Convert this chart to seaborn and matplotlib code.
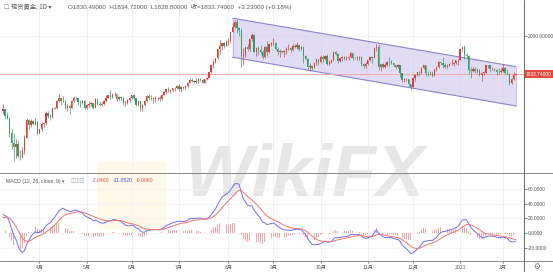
import numpy as np
import pandas as pd
import matplotlib
matplotlib.use("Agg")
import matplotlib.pyplot as plt
import seaborn as sns
from matplotlib.patches import Polygon, FancyBboxPatch
from matplotlib.lines import Line2D
from matplotlib.ticker import FormatStrFormatter
import matplotlib.transforms as mtransforms

# ---------------- data ----------------
# warm-up closes (before the visible window) used for the MACD indicator
warm_dec19 = [1463, 1477, 1474, 1475, 1460, 1462, 1464, 1476, 1475, 1476, 1476, 1476, 1475, 1478, 1478,
              1486, 1498, 1512, 1511, 1515, 1517]
warm_jan20 = [1528, 1552, 1566, 1574, 1556, 1552, 1562, 1548, 1545, 1555, 1552, 1557, 1560, 1558, 1557,
              1563, 1571, 1582, 1567, 1577, 1576, 1589]
warm_feb20 = [1577, 1553, 1556, 1567, 1570, 1572, 1566, 1568, 1576, 1584, 1581, 1601, 1611, 1620, 1643,
              1659, 1636, 1641, 1643, 1585]
warm_mar20 = [1592, 1640, 1636, 1672, 1674]

close_mar = [1680, 1649, 1639, 1577, 1530, 1514, 1526, 1477, 1471, 1498, 1553, 1632, 1612, 1630, 1617, 1622, 1577]
high_mar = [1703, 1681, 1666, 1645, 1595, 1575, 1548, 1546, 1501, 1516, 1567, 1641, 1637, 1637, 1631, 1643, 1628]
low_mar = [1659, 1636, 1635, 1560, 1504, 1451, 1466, 1472, 1456, 1468, 1482, 1553, 1593, 1600, 1609, 1611, 1567]

close_apr = [1591, 1613, 1620, 1663, 1648, 1645, 1684, 1683, 1714, 1727, 1716, 1717, 1683, 1694, 1687, 1714,
             1730, 1727, 1713, 1706, 1714, 1686]
high_apr = [1594, 1624, 1625, 1670, 1671, 1660, 1690, 1688, 1721, 1747, 1730, 1737, 1719, 1702, 1697, 1718,
            1739, 1737, 1725, 1719, 1718, 1722]
low_apr = [1570, 1585, 1604, 1609, 1640, 1634, 1643, 1679, 1680, 1711, 1699, 1712, 1680, 1672, 1660, 1685,
           1711, 1720, 1700, 1691, 1701, 1680]

close_may = [1700, 1701, 1705, 1685, 1725, 1702, 1697, 1702, 1716, 1730, 1743, 1733, 1745, 1747, 1725, 1735,
             1729, 1709, 1709, 1719, 1730]
high_may = [1703, 1716, 1711, 1707, 1728, 1726, 1714, 1711, 1718, 1740, 1744, 1765, 1748, 1754, 1747, 1737,
            1736, 1735, 1716, 1724, 1733]
low_may = [1680, 1688, 1693, 1682, 1685, 1697, 1692, 1694, 1698, 1711, 1727, 1726, 1727, 1738, 1717, 1722,
           1722, 1697, 1694, 1701, 1712]

close_jun = [1740, 1727, 1700, 1714, 1684, 1698, 1714, 1737, 1727, 1729, 1725, 1727, 1727, 1723, 1743, 1754,
             1768, 1761, 1764, 1771, 1772, 1781]
high_jun = [1744, 1745, 1730, 1716, 1718, 1701, 1719, 1740, 1745, 1744, 1735, 1736, 1734, 1736, 1745, 1758,
            1768, 1779, 1767, 1772, 1775, 1785]
low_jun = [1724, 1720, 1693, 1694, 1671, 1671, 1692, 1712, 1720, 1720, 1705, 1710, 1721, 1714, 1721, 1740,
           1752, 1757, 1750, 1757, 1761, 1768]

close_jul = [1769, 1775, 1772, 1783, 1795, 1809, 1803, 1799, 1802, 1810, 1809, 1796, 1810, 1818, 1842, 1871,
             1888, 1902, 1941, 1957, 1970, 1958, 1975]
high_jul = [1789, 1776, 1777, 1786, 1797, 1818, 1818, 1808, 1817, 1812, 1818, 1813, 1812, 1822, 1843, 1872,
            1898, 1904, 1945, 1981, 1970, 1975, 1984]
low_jul = [1760, 1757, 1767, 1770, 1775, 1793, 1797, 1795, 1795, 1796, 1802, 1794, 1795, 1806, 1815, 1838,
           1858, 1880, 1900, 1923, 1940, 1946, 1957]

close_aug = [1976, 2019, 2039, 2062, 2035, 2028, 1911, 1915, 1954, 1944, 1985, 2003, 1929, 1947, 1940, 1929,
             1907, 1953, 1929, 1964, 1968]
high_aug = [1990, 2024, 2055, 2069, 2075, 2040, 2033, 1949, 1956, 1965, 1989, 2015, 2010, 1951, 1955, 1960,
            1938, 1958, 1976, 1968, 1974]
low_aug = [1959, 1970, 2016, 2033, 2015, 2001, 1863, 1874, 1909, 1934, 1935, 1980, 1929, 1912, 1917, 1920,
           1901, 1902, 1911, 1924, 1958]

close_sep = [1971, 1943, 1931, 1933, 1931, 1932, 1946, 1946, 1940, 1956, 1954, 1960, 1944, 1950, 1912, 1900,
             1863, 1867, 1861, 1881, 1898, 1886]
high_sep = [1992, 1972, 1952, 1945, 1935, 1937, 1952, 1966, 1952, 1963, 1967, 1972, 1961, 1958, 1955, 1918,
            1904, 1882, 1873, 1883, 1900, 1899]
low_sep = [1962, 1937, 1916, 1907, 1924, 1906, 1921, 1938, 1932, 1934, 1948, 1945, 1933, 1940, 1882, 1893,
           1856, 1848, 1851, 1859, 1874, 1872]

close_oct = [1906, 1899, 1913, 1877, 1887, 1893, 1930, 1922, 1891, 1902, 1908, 1899, 1905, 1907, 1924, 1904,
             1902, 1902, 1908, 1878, 1868, 1879]
high_oct = [1917, 1918, 1918, 1921, 1893, 1899, 1933, 1934, 1925, 1904, 1911, 1912, 1912, 1913, 1932, 1925,
            1910, 1913, 1912, 1911, 1880, 1885]
low_oct = [1882, 1887, 1894, 1873, 1874, 1880, 1890, 1918, 1884, 1885, 1891, 1894, 1897, 1895, 1903, 1894,
           1898, 1894, 1897, 1869, 1860, 1859]

close_nov = [1894, 1909, 1904, 1948, 1952, 1863, 1877, 1866, 1874, 1888, 1887, 1880, 1872, 1866, 1871, 1837,
             1806, 1810, 1811, 1788, 1777]
high_nov = [1897, 1911, 1912, 1950, 1966, 1965, 1879, 1882, 1880, 1892, 1907, 1894, 1883, 1873, 1876, 1875,
            1839, 1815, 1816, 1814, 1792]
low_nov = [1875, 1889, 1883, 1904, 1936, 1850, 1848, 1860, 1860, 1870, 1868, 1878, 1866, 1855, 1862, 1822,
           1800, 1800, 1805, 1775, 1764]

close_dec = [1815, 1831, 1841, 1838, 1862, 1871, 1838, 1837, 1839, 1827, 1855, 1863, 1886, 1881, 1872, 1863,
             1870, 1876, 1877, 1880, 1893, 1895]
high_dec = [1820, 1833, 1843, 1848, 1866, 1875, 1875, 1845, 1848, 1845, 1857, 1867, 1891, 1887, 1907, 1880,
            1878, 1883, 1899, 1888, 1893, 1900]
low_dec = [1776, 1805, 1826, 1826, 1834, 1855, 1826, 1826, 1829, 1820, 1826, 1848, 1859, 1874, 1860, 1861,
           1859, 1869, 1872, 1870, 1876, 1875]

close_jan = [1943, 1950, 1918, 1912, 1850, 1845, 1855, 1846, 1851, 1829, 1840, 1840, 1871, 1871, 1856, 1856,
             1850, 1844, 1843, 1848]
high_jan = [1945, 1952, 1960, 1925, 1917, 1865, 1863, 1863, 1860, 1854, 1843, 1845, 1875, 1875, 1871, 1866,
            1858, 1854, 1859, 1861]
low_jan = [1895, 1933, 1901, 1905, 1833, 1816, 1842, 1839, 1838, 1826, 1804, 1831, 1838, 1858, 1844, 1850,
           1846, 1830, 1835, 1837]

close_feb = [1860, 1837, 1835, 1794, 1814, 1830.51, 1833.74]
high_feb = [1876, 1864, 1856, 1837, 1817, 1843, 1834.72]
low_feb = [1843, 1832, 1830, 1785, 1792, 1807, 1828.80]
last_open = 1830.49

month_labels = ["4月", "5月", "6月", "7月", "8月", "9月", "10月", "11月", "12月", "2021", "2月"]

channel_dates = ["2020-08-05", "2021-02-09"]
channel_top = [2078, 1866]
channel_bottom = [1907, 1694]

price_tick = [2000]
macd_ticks = [60, 40, 20, 0, -20]

# ---------------- assemble ----------------
closes = (close_mar + close_apr + close_may + close_jun + close_jul + close_aug + close_sep +
          close_oct + close_nov + close_dec + close_jan + close_feb)
highs = (high_mar + high_apr + high_may + high_jun + high_jul + high_aug + high_sep +
         high_oct + high_nov + high_dec + high_jan + high_feb)
lows = (low_mar + low_apr + low_may + low_jun + low_jul + low_aug + low_sep +
        low_oct + low_nov + low_dec + low_jan + low_feb)
warm = warm_dec19 + warm_jan20 + warm_feb20 + warm_mar20

days = pd.bdate_range("2020-03-09", "2021-02-09")
days = days[~days.isin(pd.to_datetime(["2020-12-25", "2021-01-01"]))]
assert len(days) == len(closes) == len(highs) == len(lows)

n = len(closes)
closes_a = np.array(closes, float)
# spot gold trades continuously: each bar opens at the prior close
opens_a = np.concatenate([[warm[-1]], closes_a[:-1]])
opens_a[-1] = last_open
df = pd.DataFrame({"date": days, "i": np.arange(n), "open": opens_a, "high": highs,
                   "low": lows, "close": closes_a})

allc = pd.Series(warm + closes, dtype=float)
ema12 = allc.ewm(span=12, adjust=False).mean()
ema26 = allc.ewm(span=26, adjust=False).mean()
macd = ema12 - ema26
sig = macd.ewm(span=9, adjust=False).mean()
df["macd"] = macd.values[len(warm):]
df["signal"] = sig.values[len(warm):]
df["hist"] = df["macd"] - df["signal"]

month_idx = []
for m in pd.period_range("2020-04", "2021-02", freq="M"):
    mask = (df["date"].dt.to_period("M") == m).values
    month_idx.append(int(np.argmax(mask)))

# ---------------- figure ----------------
sns.set_theme(style="white")
plt.rcParams['font.family'] = ['Liberation Sans', 'DejaVu Sans', 'Noto Sans CJK SC']
CJK = ['Noto Sans CJK SC', 'DejaVu Sans']
LAT = ['Liberation Sans', 'DejaVu Sans']

W, H = 553, 272
fig = plt.figure(figsize=(W / 100, H / 100), dpi=100)
fig.patch.set_facecolor("white")
axw = 523.5 / W
ax = fig.add_axes([0, 100 / H, axw, 172 / H])
ax2 = fig.add_axes([0, 11 / H, axw, 88 / H])
for a in (ax, ax2):
    a.patch.set_alpha(0)
    for s in a.spines.values():
        s.set_visible(False)

step = 2.146
x0 = -3 / step
x1 = (523.5 - 3) / step
ax.set_xlim(x0, x1)
ax2.set_xlim(x0, x1)
ax.set_ylim(1405, 2157.5)
ax2.set_ylim(-38.1, 81.6)

grid_c = "#efefef"
for a in (ax, ax2):
    for mi in month_idx:
        a.axvline(mi, color=grid_c, lw=0.6, zorder=0)
for t in price_tick:
    ax.axhline(t, color=grid_c, lw=0.6, zorder=0)
for t in macd_ticks:
    ax2.axhline(t, color="#f2f2f2", lw=0.6, zorder=0)

# watermark (behind)
fig.patches.append(FancyBboxPatch((104 / W, 1 - 226 / H), 56 / W, 62 / H,
                                  boxstyle="round,pad=0.012", transform=fig.transFigure,
                                  fc="#fdf3d3", ec="none", alpha=0.5, zorder=-2))
fig.text(305 / W, 1 - 177 / H, "WikiFX", fontsize=52, fontweight="bold", fontstyle="italic",
         family=["Liberation Sans Narrow", "Liberation Sans", "DejaVu Sans"], color="#e6e6e6",
         ha="center", va="center", zorder=-1)

# channel
ci = [int(df.index[df["date"] == pd.Timestamp(d)][0]) for d in channel_dates]
poly = Polygon([(ci[0], channel_top[0]), (ci[1], channel_top[1]),
                (ci[1], channel_bottom[1]), (ci[0], channel_bottom[0])],
               closed=True, fc="#cdc6ec", alpha=0.6, ec="none", zorder=1)
ax.add_patch(poly)
ax.plot([ci[0], ci[1]], channel_top, color="#8c80cf", lw=0.8, zorder=2)
ax.plot([ci[0], ci[1]], channel_bottom, color="#8c80cf", lw=0.8, zorder=2)
ax.plot([ci[0], ci[0]], [channel_bottom[0], channel_top[0]], color="#b0a8dd", lw=0.5, zorder=2)
ax.plot([ci[1], ci[1]], [channel_bottom[1], channel_top[1]], color="#b0a8dd", lw=0.5, zorder=2)

# last price line
last = closes[-1]
ax.axhline(last, color="#f0a9a9", lw=0.7, zorder=2)

# candles
up_c, dn_c = "#d2413a", "#3a9a6a"
up = df["close"] >= df["open"]
cols = np.where(up, up_c, dn_c)
ax.vlines(df["i"], df["low"], df["high"], colors=cols, lw=0.5, zorder=3)
body = (df["close"] - df["open"]).values
body = np.where(np.abs(body) < 1.5, np.where(body >= 0, 1.5, -1.5), body)
ax.bar(df["i"], body, bottom=df["open"], width=0.62, color=cols, linewidth=0, zorder=4)

# MACD pane
ax2.bar(df["i"], df["hist"], width=0.35, color="#f2a3a3", linewidth=0, zorder=2)
sns.lineplot(data=df, x="i", y="macd", ax=ax2, color="#6f6ff0", lw=0.7, zorder=3)
sns.lineplot(data=df, x="i", y="signal", ax=ax2, color="#f07272", lw=0.7, zorder=3)
ax2.set_xlabel("")
ax2.set_ylabel("")

# axes ticks
ax.yaxis.tick_right()
ax.set_yticks(price_tick)
ax.yaxis.set_major_formatter(FormatStrFormatter("%.5f"))
ax.tick_params(axis="y", length=2, width=0.5, pad=1.0, labelsize=3.5, colors="#555555", right=True)
ax.set_xticks([])

ax2.yaxis.tick_right()
ax2.set_yticks(macd_ticks)
ax2.yaxis.set_major_formatter(FormatStrFormatter("%.4f"))
ax2.tick_params(axis="y", length=2, width=0.5, pad=1.0, labelsize=3.5, colors="#555555", right=True)
ax2.set_xticks(month_idx)
ax2.set_xticklabels(month_labels, family=CJK)
ax2.tick_params(axis="x", length=1.5, width=0.5, pad=1.2, labelsize=3.7, colors="#555555", bottom=True)

# last price label on the scale
tr = mtransforms.blended_transform_factory(ax.transAxes, ax.transData)
ax.text(1.0 + 2.0 / 523.5, last, f"{last:.5f}", transform=tr, fontsize=3.5, color="white",
        ha="left", va="center", clip_on=False, zorder=6,
        bbox=dict(boxstyle="square,pad=0.35", fc="#e04a3f", ec="none"))

# frame lines
fig.add_artist(Line2D([0, 1], [1 - 172.5 / H] * 2, transform=fig.transFigure, color="#888888", lw=0.7))
fig.add_artist(Line2D([0, 1], [1 - 261 / H] * 2, transform=fig.transFigure, color="#888888", lw=0.7))
fig.add_artist(Line2D([axw, axw], [0, 1], transform=fig.transFigure, color="#666666", lw=0.7))

# header texts
ty = 1 - 7 / H
fig.text(3 / W, ty, "☐", fontsize=4.4, color="#777777", va="center", family=["DejaVu Sans"])
fig.text(11 / W, ty, "现货黄金, 1D ▾", fontsize=4.5, color="#555555", va="center", family=CJK)
fig.text(68 / W, ty, "O1830.49000  H1834.72000  L1828.80000  收=1833.74000  +3.23000 (+0.18%)",
         fontsize=4.5, color="#555555", va="center", family=['Liberation Sans', 'Noto Sans CJK SC'])

my = 1 - 181 / H
fig.text(6 / W, my, "MACD (12, 26, close, 9) ▾", fontsize=3.7, color="#555555", va="center",
         family=['Liberation Sans', 'DejaVu Sans'])
fig.text(71 / W, my, "◫◫◫", fontsize=3.7, color="#999999", va="center", family=["DejaVu Sans"])
fig.text(92 / W, my, "-2.0460", fontsize=3.7, color="#e05050", va="center", family=LAT)
fig.text(113 / W, my, "-11.0520", fontsize=3.7, color="#4b4bd8", va="center", family=LAT)
fig.text(136 / W, my, "-9.0060", fontsize=3.7, color="#e05050", va="center", family=LAT)

fig.text(537 / W, 1 - 266 / H, "⚙", fontsize=5.5, color="#666666", ha="center", va="center",
         family=["DejaVu Sans"])

fig.savefig("out.png", dpi=100, facecolor="white")
